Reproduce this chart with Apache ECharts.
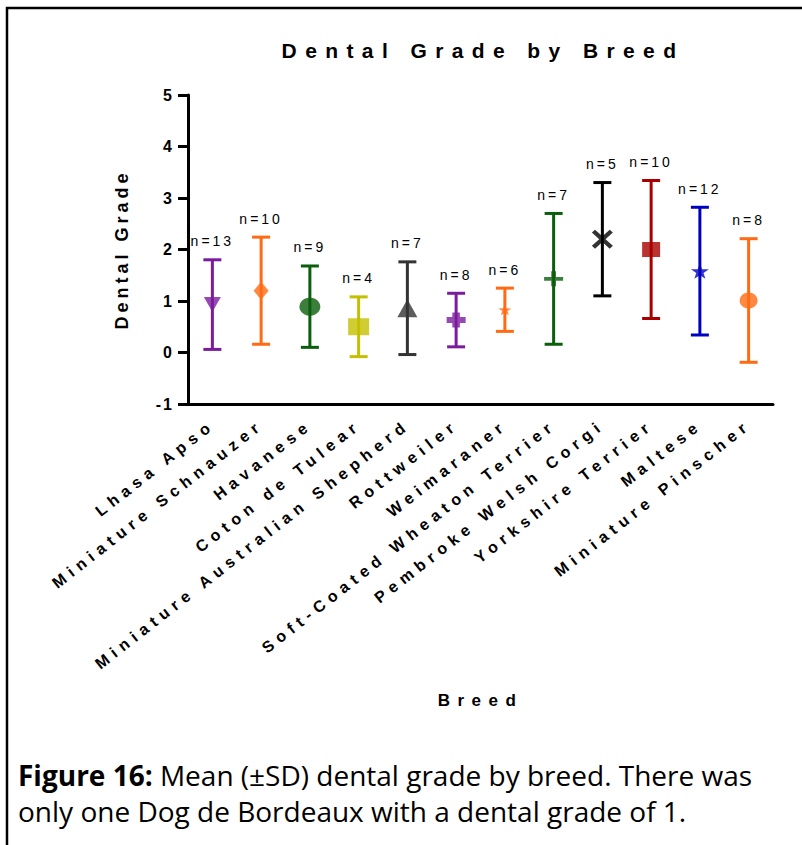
<!DOCTYPE html>
<html>
<head>
<meta charset="utf-8">
<script src="https://cdn.jsdelivr.net/npm/echarts@6/dist/echarts.min.js"></script>
<style>
  html, body { margin: 0; padding: 0; background: #fff; }
  #chart { width: 802px; height: 845px; }
  #chart text { white-space: pre; }
  #chart text[style*="zzt"] { letter-spacing: 8.4px; }
  #chart text[style*="zzx"] { letter-spacing: 5.6px; }
  #chart text[style*="zzy"] { letter-spacing: 2px; }
  #chart text[style*="zzn"] { letter-spacing: 3px; }
  #chart text[style*="zzq"] { letter-spacing: 4px; }
  #chart text[style*="zzb"] { letter-spacing: 7.5px; }
</style>
</head>
<body>
<div id="chart"></div>
<script>
// ---- data ----
var categories = ['Lhasa Apso', 'Miniature Schnauzer', 'Havanese', 'Coton de Tulear',
  'Miniature Australian Shepherd', 'Rottweiler', 'Weimaraner', 'Soft-Coated Wheaton Terrier',
  'Pembroke Welsh Corgi', 'Yorkshire Terrier', 'Maltese', 'Miniature Pinscher'];
var means = [0.93, 1.20, 0.89, 0.50, 0.86, 0.63, 0.83, 1.43, 2.20, 2.00, 1.58, 1.01];
var sds   = [0.87, 1.04, 0.79, 0.58, 0.90, 0.52, 0.42, 1.27, 1.10, 1.34, 1.24, 1.20];
var counts = [13, 10, 9, 4, 7, 8, 6, 7, 5, 10, 12, 8];
var yTicks = [-1, 0, 1, 2, 3, 4, 5];

// ---- styles ----
var colors = ['#7b1c9e', '#ff6a13', '#0b5e0b', '#c4bf00', '#333333', '#7b1c9e',
  '#ff6a13', '#0b5e0b', '#000000', '#a80000', '#0000c0', '#ff6a13'];
var STAR = 'path://M10,0 L12.35,6.76 L19.51,6.91 L13.80,11.24 L15.88,18.09 L10,14 L4.12,18.09 L6.20,11.24 L0.49,6.91 L7.65,6.76 Z';
var symbols = [
  'path://M0,0 L20,0 L10,18 Z',
  'diamond',
  'circle',
  'rect',
  'path://M10,0 L20,18 L0,18 Z',
  'path://M6,0 H14 L14,6 H20 V14 H14 V20 H6 V14 H0 V6 H6 Z',
  STAR,
  'path://M7.5,0 H12.5 V7.5 H20 V12.5 H12.5 V20 H7.5 V12.5 H0 V7.5 H7.5 Z',
  'path://M0,3 L3,0 L10,7 L17,0 L20,3 L13,10 L20,17 L17,20 L10,13 L3,20 L0,17 L7,10 Z',
  'rect',
  STAR,
  'circle'
];
var symbolSizes = [[17,15],[15,18],[21,18],[21,17],[20,18],[19,15],[13,11],[19,15],[21,19],[18,15],[18,15],[18,16]];

var errData = categories.map(function (c, i) { return [i, means[i] - sds[i], means[i] + sds[i]]; });
var markerData = categories.map(function (c, i) {
  return { value: [i, means[i]], symbol: symbols[i], symbolSize: symbolSizes[i],
           itemStyle: { color: colors[i] } };
});
var nData = categories.map(function (c, i) { return [i, means[i] + sds[i]]; });

var chart = echarts.init(document.getElementById('chart'), null, { renderer: 'svg' });
var FONT = 'Liberation Sans';
chart.setOption({
  animation: false,
  backgroundColor: '#fff',
  grid: { left: 188, right: 29, top: 95, bottom: 441, containLabel: false },
  xAxis: {
    type: 'category',
    data: categories,
    boundaryGap: true,
    name: 'Breed',
    nameLocation: 'middle',
    nameGap: 288,
    nameTextStyle: { fontFamily: FONT + ', zzb', fontWeight: 'bold', fontSize: 17, color: '#000' },
    axisLine: { onZero: false, lineStyle: { color: '#000', width: 3 } },
    axisTick: { alignWithLabel: true, length: 10, lineStyle: { color: '#000', width: 3 } },
    axisLabel: { interval: 0, rotate: 38, margin: 19, fontFamily: FONT + ', zzx', fontWeight: 'bold',
                 fontSize: 16, color: '#000' },
    splitLine: { show: false }
  },
  yAxis: {
    type: 'value',
    min: yTicks[0],
    max: yTicks[yTicks.length - 1],
    interval: 1,
    name: 'Dental Grade',
    nameLocation: 'middle',
    nameGap: 57,
    nameTextStyle: { fontFamily: FONT + ', zzq', fontWeight: 'bold', fontSize: 18, color: '#000' },
    axisLine: { show: true, onZero: false, lineStyle: { color: '#000', width: 3 } },
    axisTick: { show: true, length: 10, lineStyle: { color: '#000', width: 3 } },
    axisLabel: { margin: 14, fontFamily: FONT + ', zzy', fontWeight: 'bold', fontSize: 16, color: '#000' },
    splitLine: { show: false }
  },
  graphic: [
    { type: 'polyline', shape: { points: [[7, 845], [7, 8], [802, 8]] },
      style: { stroke: '#000', lineWidth: 2.5, fill: null }, z: 10 },
    { type: 'text', x: 483, y: 50,
      style: { text: 'Dental Grade by Breed', textAlign: 'center', textVerticalAlign: 'middle',
               font: 'bold 21px ' + FONT + ', zzt', fill: '#000' } },
    { type: 'text', x: 18, y: 757,
      style: {
        text: '{b|Figure 16:} Mean (±SD) dental grade by breed. There was\nonly one Dog de Bordeaux with a dental grade of 1.',
        fill: '#000', font: '28px Open Sans', lineHeight: 36,
        rich: { b: { fontWeight: 'bold', fontFamily: 'Open Sans', fontSize: 28, lineHeight: 36 } }
      } }
  ],
  series: [
    {
      type: 'custom',
      data: errData,
      encode: { x: 0, y: [1, 2] },
      renderItem: function (params, api) {
        var i = api.value(0);
        var lo = api.coord([i, api.value(1)]);
        var hi = api.coord([i, api.value(2)]);
        var half = 9;
        var st = { stroke: colors[i], lineWidth: 3, fill: null };
        return { type: 'group', children: [
          { type: 'line', shape: { x1: lo[0], y1: lo[1], x2: hi[0], y2: hi[1] }, style: st },
          { type: 'line', shape: { x1: lo[0] - half, y1: lo[1], x2: lo[0] + half, y2: lo[1] }, style: st },
          { type: 'line', shape: { x1: hi[0] - half, y1: hi[1], x2: hi[0] + half, y2: hi[1] }, style: st }
        ] };
      },
      z: 2
    },
    {
      type: 'scatter',
      data: markerData,
      z: 3
    },
    {
      type: 'scatter',
      data: nData,
      symbolSize: 1,
      itemStyle: { color: 'rgba(0,0,0,0)' },
      label: {
        show: true, position: 'top', distance: 11,
        formatter: function (p) { return 'n=' + counts[p.dataIndex]; },
        fontFamily: FONT + ', zzn', fontSize: 14, color: '#000', opacity: 1
      },
      z: 4
    }
  ]
});
</script>
</body>
</html>
